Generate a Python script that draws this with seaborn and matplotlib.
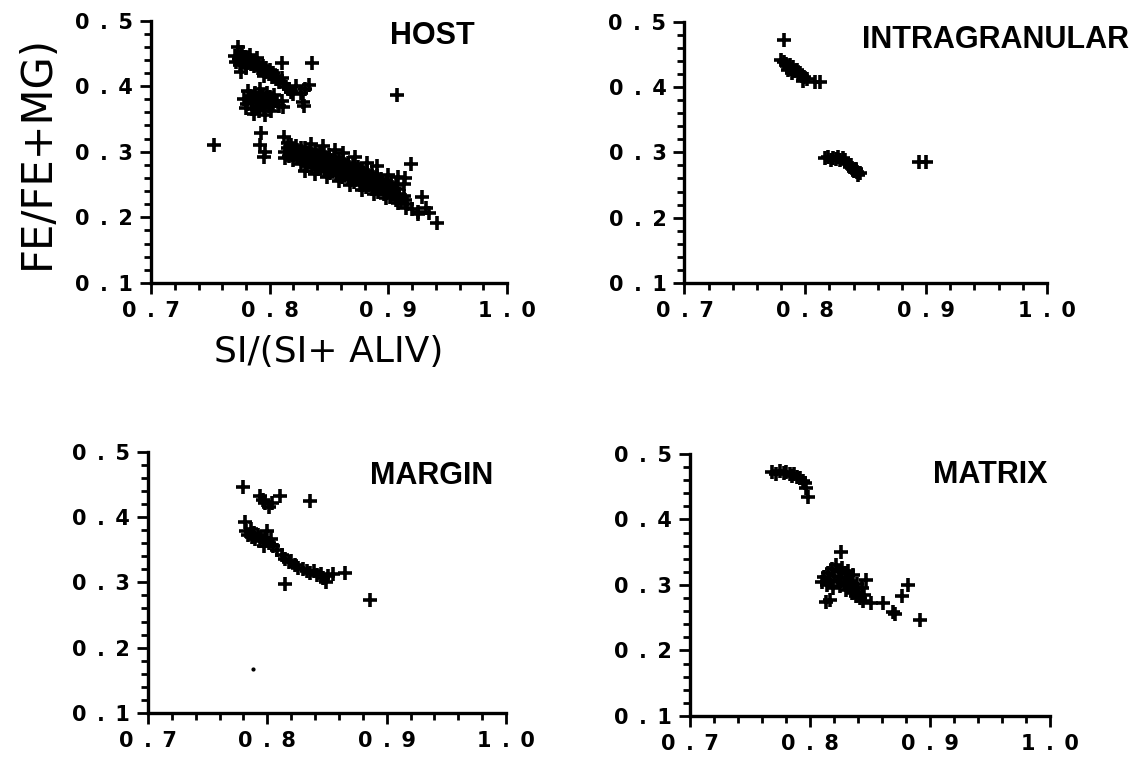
import matplotlib
matplotlib.use("Agg")
import matplotlib.pyplot as plt
import seaborn as sns
from matplotlib.ticker import MultipleLocator

sns.set_style("ticks")
plt.rcParams['font.family'] = ['DejaVu Sans']
plt.rcParams['text.color'] = 'black'
plt.rcParams['axes.labelcolor'] = 'black'
plt.rcParams['xtick.color'] = 'black'
plt.rcParams['ytick.color'] = 'black'

# ---- data: SI/(SI+ALIV) vs FE/(FE+MG) ----
host_x = [
    # upper-left band
    0.771, 0.774, 0.776, 0.778, 0.779, 0.781, 0.782, 0.784, 0.785, 0.787,
    0.788, 0.790, 0.791, 0.793, 0.794, 0.796, 0.797, 0.799, 0.800, 0.802,
    0.803, 0.805, 0.806, 0.808, 0.810, 0.812, 0.814, 0.816, 0.818, 0.820,
    0.775, 0.780, 0.772, 0.777, 0.783, 0.789, 0.795, 0.773, 0.776,
    # blob under the band
    0.778, 0.781, 0.783, 0.785, 0.786, 0.788, 0.789, 0.790, 0.791, 0.792,
    0.793, 0.794, 0.795, 0.797, 0.798, 0.799, 0.800, 0.801, 0.803, 0.804,
    0.782, 0.787, 0.796, 0.806, 0.808, 0.780,
    # main band, upper row
    0.812, 0.815, 0.818, 0.822, 0.826, 0.830, 0.834, 0.838, 0.842, 0.846,
    0.850, 0.854, 0.858, 0.862, 0.866, 0.870, 0.874, 0.878, 0.882, 0.886,
    0.890, 0.894, 0.898, 0.902, 0.906,
    # main band, second row
    0.815, 0.819, 0.823, 0.827, 0.831, 0.835, 0.839, 0.843, 0.847, 0.851,
    0.855, 0.859, 0.863, 0.867, 0.871, 0.875, 0.879, 0.883, 0.887, 0.891,
    0.895, 0.899, 0.903, 0.907,
    # main band, middle row
    0.813, 0.817, 0.821, 0.825, 0.829, 0.833, 0.837, 0.841, 0.845, 0.849,
    0.853, 0.857, 0.861, 0.865, 0.869, 0.873, 0.877, 0.881, 0.885, 0.889,
    0.893, 0.897, 0.901, 0.905, 0.909, 0.913,
    # main band, fourth row
    0.816, 0.823, 0.828, 0.834, 0.839, 0.844, 0.849, 0.854, 0.859, 0.864,
    0.869, 0.874, 0.879, 0.884, 0.889, 0.894, 0.899, 0.904, 0.909, 0.914,
    # main band, lower row
    0.813, 0.820, 0.826, 0.831, 0.836, 0.841, 0.846, 0.851, 0.856, 0.861,
    0.866, 0.871, 0.876, 0.881, 0.886, 0.891, 0.896, 0.901, 0.906, 0.911,
    0.916,
    # main band edges
    0.830, 0.838, 0.848, 0.858, 0.868, 0.878, 0.888, 0.898, 0.908, 0.915,
    0.920, 0.925, 0.835, 0.845, 0.855, 0.862, 0.872, 0.882, 0.890, 0.900,
    0.908,
    # scattered points
    0.753, 0.907, 0.836, 0.810, 0.833, 0.830, 0.828, 0.829, 0.811, 0.810,
    0.793, 0.792, 0.796, 0.795, 0.919, 0.914, 0.913, 0.928, 0.941, 0.934,
    0.925, 0.932, 0.822, 0.826,
]
host_y = [
    0.446, 0.441, 0.447, 0.439, 0.444, 0.436, 0.442, 0.433, 0.439, 0.430,
    0.437, 0.427, 0.433, 0.424, 0.430, 0.421, 0.427, 0.418, 0.424, 0.414,
    0.420, 0.411, 0.416, 0.407, 0.412, 0.403, 0.399, 0.395, 0.391, 0.388,
    0.432, 0.428, 0.437, 0.452, 0.448, 0.443, 0.415, 0.460, 0.421,
    0.380, 0.372, 0.385, 0.365, 0.377, 0.390, 0.370, 0.382, 0.362, 0.395,
    0.375, 0.386, 0.367, 0.379, 0.390, 0.370, 0.383, 0.362, 0.375, 0.387,
    0.393, 0.358, 0.356, 0.378, 0.370, 0.366,
    0.322, 0.313, 0.310, 0.308, 0.306, 0.305, 0.303, 0.302, 0.300, 0.298,
    0.295, 0.292, 0.289, 0.287, 0.283, 0.281, 0.277, 0.274, 0.270, 0.267,
    0.263, 0.259, 0.256, 0.253, 0.249,
    0.305, 0.303, 0.302, 0.300, 0.298, 0.296, 0.295, 0.293, 0.290, 0.288,
    0.285, 0.283, 0.280, 0.277, 0.274, 0.271, 0.268, 0.264, 0.261, 0.257,
    0.254, 0.250, 0.247, 0.243,
    0.300, 0.298, 0.296, 0.294, 0.292, 0.290, 0.288, 0.285, 0.283, 0.281,
    0.278, 0.276, 0.273, 0.270, 0.267, 0.264, 0.261, 0.258, 0.255, 0.252,
    0.249, 0.245, 0.242, 0.239, 0.235, 0.232,
    0.294, 0.291, 0.287, 0.284, 0.280, 0.278, 0.275, 0.272, 0.269, 0.266,
    0.262, 0.258, 0.254, 0.250, 0.247, 0.243, 0.239, 0.235, 0.231, 0.227,
    0.290, 0.287, 0.282, 0.279, 0.276, 0.273, 0.270, 0.267, 0.264, 0.261,
    0.258, 0.254, 0.250, 0.246, 0.243, 0.239, 0.235, 0.231, 0.227, 0.223,
    0.220,
    0.270, 0.266, 0.262, 0.256, 0.249, 0.242, 0.236, 0.229, 0.222, 0.215,
    0.212, 0.208, 0.312, 0.308, 0.302, 0.298, 0.292, 0.283, 0.278, 0.265,
    0.262,
    0.311, 0.386, 0.436, 0.435, 0.402, 0.395, 0.376, 0.369, 0.368, 0.378,
    0.329, 0.310, 0.300, 0.292, 0.281, 0.260, 0.251, 0.231, 0.191, 0.206,
    0.205, 0.215, 0.400, 0.390,
]

intra_x = [
    0.782,
    0.780, 0.782, 0.784, 0.785, 0.787, 0.788, 0.790, 0.791, 0.793, 0.794,
    0.796, 0.797, 0.799, 0.801, 0.789, 0.786, 0.798,
    0.808, 0.812,
    0.816, 0.819, 0.821, 0.823, 0.825, 0.827, 0.829, 0.831, 0.833,
    0.835, 0.837, 0.839, 0.840, 0.842, 0.843, 0.845, 0.838, 0.844,
    0.894, 0.900,
]
intra_y = [
    0.472,
    0.442, 0.438, 0.436, 0.432, 0.434, 0.428, 0.430, 0.424, 0.426, 0.420,
    0.422, 0.417, 0.415, 0.412, 0.422, 0.426, 0.410,
    0.407, 0.407,
    0.291, 0.293, 0.289, 0.292, 0.290, 0.293, 0.289, 0.291, 0.288,
    0.282, 0.278, 0.276, 0.272, 0.274, 0.270, 0.268, 0.281, 0.265,
    0.285, 0.285,
]

margin_x = [
    0.780, 0.794, 0.796, 0.798, 0.801, 0.804, 0.811, 0.836,
    0.781, 0.782, 0.784, 0.786, 0.787, 0.789, 0.790, 0.792, 0.794, 0.795,
    0.797, 0.798, 0.800, 0.801, 0.803, 0.805, 0.808, 0.812, 0.815, 0.818,
    0.820, 0.823, 0.826, 0.830, 0.833, 0.836, 0.839, 0.842, 0.845, 0.847,
    0.849, 0.851, 0.855, 0.865,
    0.815, 0.886,
]
margin_y = [
    0.446, 0.432, 0.426, 0.421, 0.416, 0.422, 0.432, 0.424,
    0.392, 0.378, 0.372, 0.381, 0.369, 0.375, 0.366, 0.372, 0.364, 0.370,
    0.355, 0.366, 0.378, 0.361, 0.367, 0.355, 0.349, 0.342, 0.336, 0.331,
    0.333, 0.326, 0.322, 0.320, 0.318, 0.315, 0.317, 0.311, 0.313, 0.306,
    0.301, 0.309, 0.313, 0.314,
    0.298, 0.273,
]
margin_speck_x = [0.788]
margin_speck_y = [0.167]

matrix_x = [
    0.768, 0.772, 0.775, 0.778, 0.780, 0.783, 0.785, 0.787, 0.789, 0.792,
    0.794, 0.796, 0.797, 0.798,
    0.826, 0.810, 0.812, 0.814, 0.815, 0.817, 0.818, 0.819, 0.820, 0.822,
    0.823, 0.824, 0.825, 0.826, 0.827, 0.828, 0.829, 0.830, 0.831, 0.832,
    0.833, 0.834, 0.835, 0.836, 0.837, 0.838, 0.839, 0.840, 0.842, 0.843,
    0.845, 0.847, 0.844, 0.813, 0.817, 0.851, 0.861, 0.869, 0.871, 0.877,
    0.882, 0.892,
]
matrix_y = [
    0.472, 0.470, 0.474, 0.471, 0.473, 0.470, 0.467, 0.469, 0.465, 0.463,
    0.459, 0.455, 0.448, 0.434,
    0.350, 0.305, 0.312, 0.300, 0.318, 0.308, 0.325, 0.296, 0.314, 0.330,
    0.305, 0.320, 0.298, 0.312, 0.326, 0.303, 0.318, 0.292, 0.310, 0.322,
    0.299, 0.306, 0.288, 0.315, 0.296, 0.283, 0.302, 0.290, 0.280, 0.295,
    0.285, 0.307, 0.276, 0.274, 0.277, 0.273, 0.272, 0.259, 0.256, 0.283,
    0.300, 0.246,
]

panel_names = ['HOST', 'INTRAGRANULAR', 'MARGIN', 'MATRIX']
x_ticks = [0.7, 0.8, 0.9, 1.0]
x_tick_labels = ['0\u2002.\u20027', '0\u2002.\u20028', '0\u2002.\u20029', '1\u2002.\u20020']
y_ticks = [0.1, 0.2, 0.3, 0.4, 0.5]
y_tick_labels = ['0\u2002.\u20021', '0\u2002.\u20022', '0\u2002.\u20023',
                 '0\u2002.\u20024', '0\u2002.\u20025']

fig = plt.figure(figsize=(11.4, 7.57), dpi=100)

axes_rects = [
    [0.1325, 0.6262, 0.3123, 0.3467],
    [0.6004, 0.6262, 0.3180, 0.3451],
    [0.1298, 0.0581, 0.3141, 0.3452],
    [0.6053, 0.0542, 0.3158, 0.3461],
]
panel_data = [(host_x, host_y), (intra_x, intra_y), (margin_x, margin_y), (matrix_x, matrix_y)]
# where the panel name sits (data coords)
name_pos = [(0.937, 0.476), (0.957, 0.472), (0.938, 0.463), (0.950, 0.468)]

for rect, (xs, ys), name, (tx, ty) in zip(axes_rects, panel_data, panel_names, name_pos):
    ax = fig.add_axes(rect)
    sns.scatterplot(x=xs, y=ys, ax=ax, marker='+', s=90, linewidth=2.6,
                    color='black', legend=False)
    ax.set_xlim(0.7, 1.0)
    ax.set_ylim(0.1, 0.5)
    ax.set_xticks(x_ticks)
    ax.set_xticklabels(x_tick_labels)
    ax.set_yticks(y_ticks)
    ax.set_yticklabels(y_tick_labels)
    ax.xaxis.set_minor_locator(MultipleLocator(0.02))
    ax.yaxis.set_minor_locator(MultipleLocator(0.02))
    ax.tick_params(which='major', direction='out', length=8, width=2,
                   labelsize=15, pad=5)
    ax.tick_params(which='minor', direction='out', length=5, width=2)
    for lab in ax.get_xticklabels() + ax.get_yticklabels():
        lab.set_fontweight('bold')
    sns.despine(ax=ax)
    for side in ['left', 'bottom']:
        ax.spines[side].set_linewidth(2.4)
        ax.spines[side].set_color('black')
    ax.text(tx, ty, name, ha='center', va='center', fontsize=22,
            fontweight='bold', family='Liberation Sans', color='black',
            clip_on=False)
    if name == 'HOST':
        ax.set_ylabel('FE/FE+MG)', fontsize=30, labelpad=12)
        ax.set_xlabel('SI/(SI+ ALIV)', fontsize=26, labelpad=10)
    if name == 'MARGIN':
        ax.scatter(margin_speck_x, margin_speck_y, s=4, color='black')

fig.savefig('out.png', dpi=100)
